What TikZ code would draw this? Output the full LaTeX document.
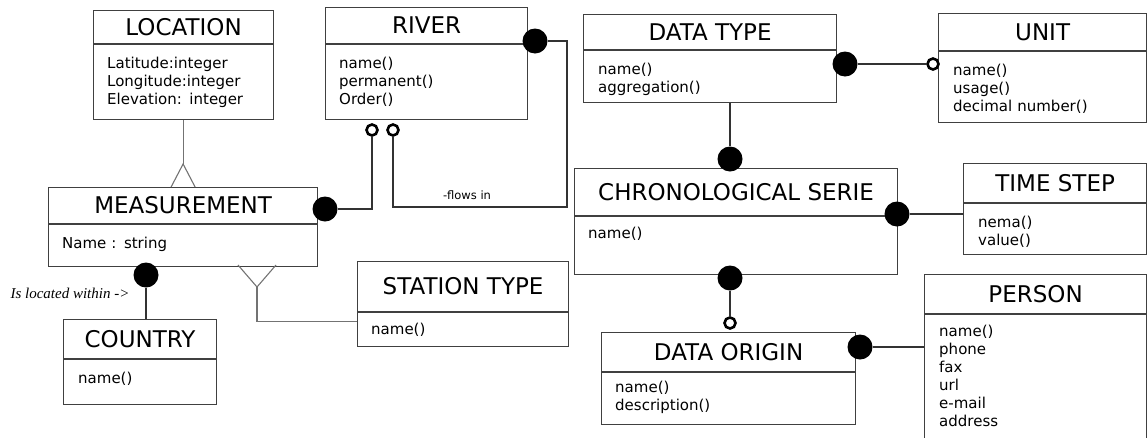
\documentclass[tikz,border=0pt]{standalone}
\usepackage{fontspec}
\setmainfont{DejaVu Sans}
\newfontfamily\notefont{Liberation Serif}
\usepackage{tikz}
\usetikzlibrary{positioning}

\newcommand{\titlefont}{\fontsize{23}{27}\selectfont}
\newcommand{\attrfont}{\fontsize{15}{18}\selectfont}

\begin{document}
\begin{tikzpicture}[x=1pt, y=-1pt,
			head/.style={rectangle, draw=black!75, line width=1.2pt, anchor=north west, inner sep=0pt, font=\titlefont},
			body/.style={rectangle, draw=black!75, line width=1.2pt, inner sep=0pt},
			attr/.style={anchor=base west, inner sep=0pt, text width=200pt, align=left, font=\attrfont},
			dot/.style={circle, fill=black, inner sep=0pt, minimum size=25pt},
			odot/.style={circle, draw=black, fill=white, line width=2.6pt, inner sep=0pt, minimum size=11pt},
			link/.style={draw=black!80, line width=1.7pt},
			foot/.style={draw=black!55, line width=1.1pt},
			note/.style={inner sep=0pt}
		]
		\useasboundingbox (0,0) rectangle (1147,437);
		\clip (0,0) rectangle (1147,437);

		% Location
		\node[head, minimum width=180pt, minimum height=33pt] (loc) at (93,10) {LOCATION};
		\node[body, minimum width=180pt, minimum height=75pt, below=0pt of loc] (locb) {};
		\node[attr] (loct) at ([shift={(14,24)}]locb.north west) {Latitude:integer\\Longitude:integer\\Elevation: integer};

		% River
		\node[head, minimum width=202pt, minimum height=36pt] (riv) at (325,7) {RIVER};
		\node[body, minimum width=202pt, minimum height=75pt, below=0pt of riv] (rivb) {};
		\node[attr] (rivt) at ([shift={(14,24)}]rivb.north west) {name()\\permanent()\\Order()};

		% Data type
		\node[head, minimum width=253pt, minimum height=35pt] (dtype) at (583,14) {DATA TYPE};
		\node[body, minimum width=253pt, minimum height=52pt, below=0pt of dtype] (dtypeb) {};
		\node[attr] (dtypet) at ([shift={(15,24)}]dtypeb.north west) {name()\\aggregation()};

		% Unit
		\node[head, minimum width=208pt, minimum height=37pt] (unit) at (938,13) {UNIT};
		\node[body, minimum width=208pt, minimum height=71pt, below=0pt of unit] (unitb) {};
		\node[attr] (unitt) at ([shift={(15,24)}]unitb.north west) {name()\\usage()\\decimal number()};

		% Measurement
		\node[head, minimum width=269pt, minimum height=36pt] (meas) at (48,187) {MEASUREMENT};
		\node[body, minimum width=269pt, minimum height=42pt, below=0pt of meas] (measb) {};
		\node[attr] (meast) at ([shift={(14,24)}]measb.north west) {Name : string};

		% Chronological serie
		\node[head, minimum width=323pt, minimum height=47pt] (chr) at (574,168) {CHRONOLOGICAL SERIE};
		\node[body, minimum width=323pt, minimum height=58pt, below=0pt of chr] (chrb) {};
		\node[attr] (chrt) at ([shift={(14,22)}]chrb.north west) {name()};

		% Time step
		\node[head, minimum width=183pt, minimum height=39pt] (tstep) at (963,163) {TIME STEP};
		\node[body, minimum width=183pt, minimum height=51pt, below=0pt of tstep] (tstepb) {};
		\node[attr] (tstept) at ([shift={(15,24)}]tstepb.north west) {nema()\\value()};

		% Station type
		\node[head, minimum width=211pt, minimum height=50pt] (stat) at (357,261) {STATION TYPE};
		\node[body, minimum width=211pt, minimum height=34pt, below=0pt of stat] (statb) {};
		\node[attr] (statt) at ([shift={(14,22)}]statb.north west) {name()};

		% Country
		\node[head, minimum width=153pt, minimum height=39pt] (cty) at (63,319) {COUNTRY};
		\node[body, minimum width=153pt, minimum height=45pt, below=0pt of cty] (ctyb) {};
		\node[attr] (ctyt) at ([shift={(15,24)}]ctyb.north west) {name()};

		% Data origin
		\node[head, minimum width=254pt, minimum height=39pt] (dorig) at (601,332) {DATA ORIGIN};
		\node[body, minimum width=254pt, minimum height=52pt, below=0pt of dorig] (dorigb) {};
		\node[attr] (dorigt) at ([shift={(14,20)}]dorigb.north west) {name()\\description()};

		% Person
		\node[head, minimum width=222pt, minimum height=39pt] (pers) at (924,274) {PERSON};
		\node[body, minimum width=222pt, minimum height=140pt, below=0pt of pers] (persb) {};
		\node[attr] (perst) at ([shift={(15,22)}]persb.north west) {name()\\phone\\fax\\url\\e-mail\\address};

		% Ends of the relations
		\node[dot] (rivdot) at (535,41) {};
		\node[dot] (measdot) at (325,209) {};
		\node[odot] (rivc1) at (372,130) {};
		\node[odot] (rivc2) at (393,130) {};
		\node[dot] (ctydot) at (146,275) {};
		\node[dot] (dtdot) at (845,64) {};
		\node[odot] (unitc) at (933,64) {};
		\node[dot] (chrtop) at (730,159) {};
		\node[dot] (chrright) at (897,214) {};
		\node[dot] (chrbot) at (730,278) {};
		\node[odot] (dorigc) at (730,323) {};
		\node[dot] (dorigdot) at (860,347) {};

		% Relations
		\coordinate (flow) at (567,207);
		\draw[link] (rivdot) -| (flow) -| (rivc2);
		\draw[link] (measdot) -| (rivc1);
		\draw[link] (ctydot) -- (ctydot |- cty.north);
		\draw[link] (dtdot) -- (unitc);
		\draw[link] (chrtop |- dtypeb.south) -- (chrtop);
		\draw[link] (chrright) -- (chrright -| tstepb.west);
		\draw[link] (chrbot) -- (dorigc);
		\draw[link] (dorigdot) -- (dorigdot -| persb.west);

		% Crow's feet
		\coordinate (locfoot) at ([yshift=23pt]meas.north);
		\draw[foot] (locfoot |- locb.south) -- (locfoot);
		\draw[foot] ([xshift=-12pt]meas.north) -- (locfoot) -- ([xshift=12pt]meas.north);
		\coordinate (statfoot) at (257,287);
		\draw[foot] (238,265) -- (statfoot) -- (276,265);
		\draw[foot] (statfoot) |- ([yshift=8pt]statb.west);

		% Labels
		\node[note, font=\fontsize{11.5}{13}\selectfont] (flowlbl) at (467,195) {-flows in};
		\node[note, font=\notefont\itshape\fontsize{15}{17}\selectfont] (locatedlbl) at (70,293) {Is located within ->};

	\end{tikzpicture}
\end{document}
